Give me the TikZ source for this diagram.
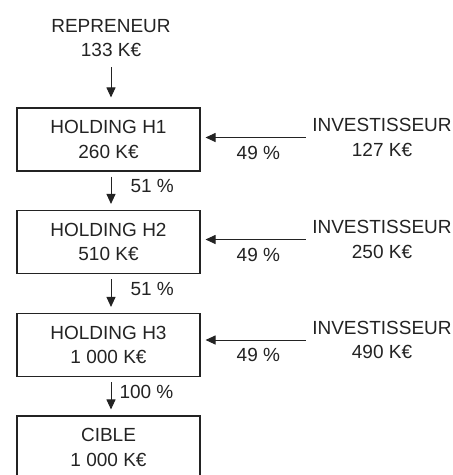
\documentclass[tikz,border=0pt]{standalone}
\usepackage{fontspec}
\setmainfont{Liberation Sans}
\usetikzlibrary{arrows.meta,positioning}
\definecolor{ink}{RGB}{35,35,35}

\begin{document}
\begin{tikzpicture}[
  x=1pt, y=-1pt,
  font=\fontsize{19}{24.5}\selectfont,
  every node/.style={text=ink},
  entity/.style={draw=ink, line width=1.1pt, minimum width=183pt, minimum height=63pt, align=center, inner sep=0pt},
  party/.style={align=center, inner sep=0pt},
  investor/.style={align=center, inner sep=0pt, minimum width=140pt},
  link/.style={-{Triangle[length=10pt, width=9pt]}, line width=1pt, draw=ink},
  pct/.style={inner sep=0pt}
]
\useasboundingbox (0,0) rectangle (453,475);
% chain of holdings
\node[party] (rep) at (111,38) {REPRENEUR\\133 K€};
\node[entity] (h1) at (108.5,139.5) {HOLDING H1\\260 K€};
\node[entity] (h2) at (108.5,242) {HOLDING H2\\510 K€};
\node[entity] (h3) at (108.5,345) {HOLDING H3\\1 000 K€};
\node[entity] (cible) at (108.5,447.5) {CIBLE\\1 000 K€};

% investors on the right
\node[investor] (inv1) at (382,137.5) {INVESTISSEUR\\127 K€};
\node[investor] (inv2) at (382,239.5) {INVESTISSEUR\\250 K€};
\node[investor] (inv3) at (382,340) {INVESTISSEUR\\490 K€};

% vertical links
\draw[link, shorten <=10pt, shorten >=10pt] (rep.south) -- (rep.south |- h1.north);
\draw[link, shorten <=5pt, shorten >=6pt] ([xshift=2.5pt]h1.south) -- node[pct, pos=0.375, right=19pt] {51 \%} ([xshift=2.5pt]h2.north);
\draw[link, shorten <=5pt, shorten >=6pt] ([xshift=2.5pt]h2.south) -- node[pct, pos=0.375, right=19pt] {51 \%} ([xshift=2.5pt]h3.north);
\draw[link, shorten <=5pt, shorten >=6pt] ([xshift=2.5pt]h3.south) -- node[pct, pos=0.385, right=8pt] {100 \%} ([xshift=2.5pt]cible.north);

% horizontal links
\draw[link, shorten <=6pt, shorten >=5pt] (inv1.west) -- node[pct, pos=0.48, below=8pt] {49 \%} (inv1.west -| h1.east);
\draw[link, shorten <=6pt, shorten >=5pt] (inv2.west) -- node[pct, pos=0.48, below=8pt] {49 \%} (inv2.west -| h2.east);
\draw[link, shorten <=6pt, shorten >=5pt] (inv3.west) -- node[pct, pos=0.48, below=8pt] {49 \%} (inv3.west -| h3.east);
\end{tikzpicture}
\end{document}
